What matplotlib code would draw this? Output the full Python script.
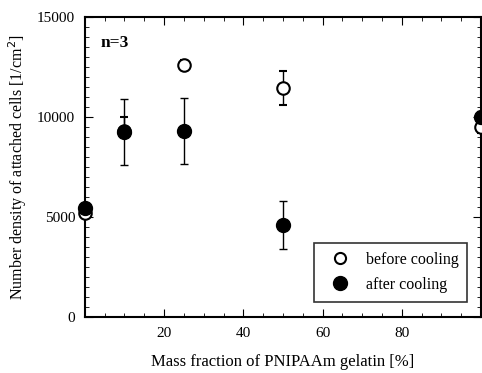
import matplotlib
matplotlib.use("Agg")
import matplotlib.pyplot as plt
from matplotlib.ticker import MultipleLocator
from matplotlib.lines import Line2D

plt.rcParams['font.family'] = ['Liberation Serif', 'DejaVu Serif']

# data
x_before = [0, 10, 25, 50, 100]
y_before = [5200, 9300, 12600, 11450, 9500]
e_before_lo = [200, 300, 250, 850, 300]
e_before_hi = [200, 700, 250, 850, 300]
x_after = [0, 10, 25, 50, 100]
y_after = [5450, 9250, 9300, 4600, 10000]
e_after = [150, 1650, 1650, 1200, 300]

fig = plt.figure(figsize=(4.82, 3.73), dpi=100)
ax = fig.add_axes([0.176, 0.150, 0.822, 0.804])

ax.errorbar(x_before, y_before, yerr=[e_before_lo, e_before_hi], fmt='o', mfc='white',
            mec='black', ecolor='black', ms=9, mew=1.5, capsize=3, elinewidth=1,
            clip_on=False, zorder=3)
ax.errorbar(x_after, y_after, yerr=e_after, fmt='o', mfc='black', mec='black',
            ecolor='black', ms=10, capsize=3, elinewidth=1, clip_on=False, zorder=4)

ax.set_xlim(0, 100)
ax.set_ylim(0, 15000)
ax.xaxis.set_major_locator(MultipleLocator(20))
ax.xaxis.set_minor_locator(MultipleLocator(5))
ax.yaxis.set_major_locator(MultipleLocator(5000))
ax.yaxis.set_minor_locator(MultipleLocator(500))
ax.set_xticks([20, 40, 60, 80])
ax.tick_params(which='both', direction='in', top=True, right=True, labelsize=11)
ax.tick_params(axis='x', which='major', pad=7)
ax.tick_params(axis='y', which='major', pad=7)
ax.tick_params(which='major', length=6)
ax.tick_params(which='minor', length=3)
for s in ax.spines.values():
    s.set_linewidth(1.5)

ax.set_xlabel('Mass fraction of PNIPAAm gelatin [%]', fontsize=12, labelpad=10)
ax.set_ylabel('Number density of attached cells [1/cm$^2$]', fontsize=11.5, labelpad=6)
ax.text(0.04, 0.9, 'n=3', transform=ax.transAxes, fontsize=12.5, fontweight='bold')

handles = [
    Line2D([], [], ls='none', marker='o', mfc='white', mec='black', ms=8, mew=1.5),
    Line2D([], [], ls='none', marker='o', mfc='black', mec='black', ms=10),
]
leg = ax.legend(handles, ['before cooling', 'after cooling'], loc='lower right',
                bbox_to_anchor=(0.985, 0.025), handletextpad=0.5, handlelength=2.2,
                fontsize=11.5, frameon=True, fancybox=False, edgecolor='black',
                borderpad=0.55, labelspacing=0.55)
leg.get_frame().set_linewidth(1.2)

fig.savefig('out.png', dpi=100)
